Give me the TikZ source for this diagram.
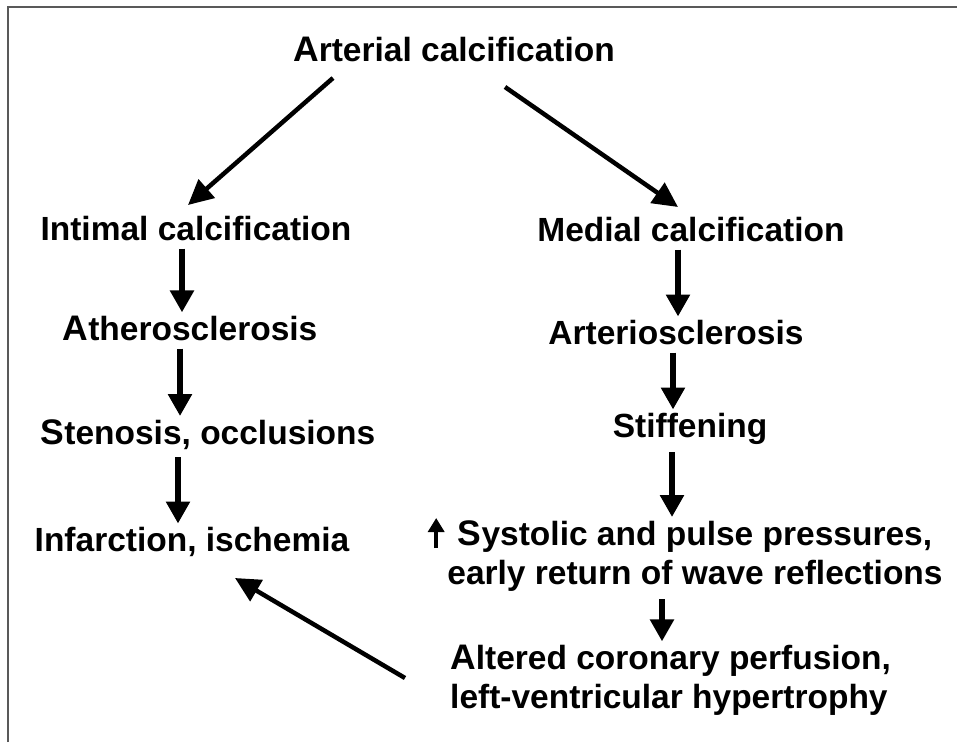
\documentclass[tikz,border=0pt]{standalone}
\usepackage{fontspec}
\setmainfont{Liberation Sans}
\usetikzlibrary{arrows.meta}
\newcommand{\initl}[1]{{\fontsize{35.5}{39}\selectfont #1}}
\tikzset{
	lbl/.style={anchor=base,inner sep=0pt,font=\fontsize{33.5}{39}\selectfont\bfseries},
	down/.style={line width=6.5pt,-{Triangle[width=23pt,length=22pt]},shorten <=8pt,shorten >=3pt},
	diag/.style={line width=4.5pt,-{Triangle[width=24pt,length=25pt]}},
	rise/.style={line width=4pt,-{Triangle[width=16pt,length=14pt]}},
	frame/.style={draw=black!65,line width=2pt}
}

\begin{document}
\begin{tikzpicture}[x=1pt,y=-1pt]
	\useasboundingbox (0,0) rectangle (957,742);
	\draw[frame] (8,742) -- (8,7) -- (957,7);
	\node[lbl] (art) at (454,61) {\initl{A}rterial calcification};
	\node[lbl] (int) at (196,240) {Intimal calcification};
	\node[lbl] (med) at (691,241) {Medial calcification};
	\node[lbl] (ath) at (190,340) {\initl{A}therosclerosis};
	\node[lbl] (arts) at (676,344) {Arteriosclerosis};
	\node[lbl] (sten) at (208,444) {\initl{S}tenosis, occlusions};
	\node[lbl] (stif) at (690,437) {Stiffening};
	\node[lbl] (inf) at (192,551) {Infarction, ischemia};
	\node[lbl,align=center] (sys) at (695,584) {\initl{S}ystolic and pulse pressures,\\early return of wave reflections};
	\node[lbl,anchor=base west,align=left] (alt) at (450,708) {\initl{A}ltered coronary perfusion,\\left-ventricular hypertrophy};
	\draw[diag] ([shift={(-121,17)}]art.base) -- ([shift={(-8,-35)}]int.base);
	\draw[diag] ([shift={(51,26)}]art.base) -- ([shift={(-13,-34)}]med.base);
	\foreach \a/\b/\x in {int/ath/182,ath/sten/180,sten/inf/178,med/arts/678,arts/stif/673,stif/sys/672,sys/alt/662}
		\draw[down] (\a.south -| \x,0) -- (\b.north -| \x,0);
	\draw[diag] ([shift={(-45,-30)}]alt.base west) -- ([shift={(43,27)}]inf.base);
	\draw[rise] ([shift={(-11,-36)}]sys.base west) -- ++(0,-30);
\end{tikzpicture}
\end{document}
